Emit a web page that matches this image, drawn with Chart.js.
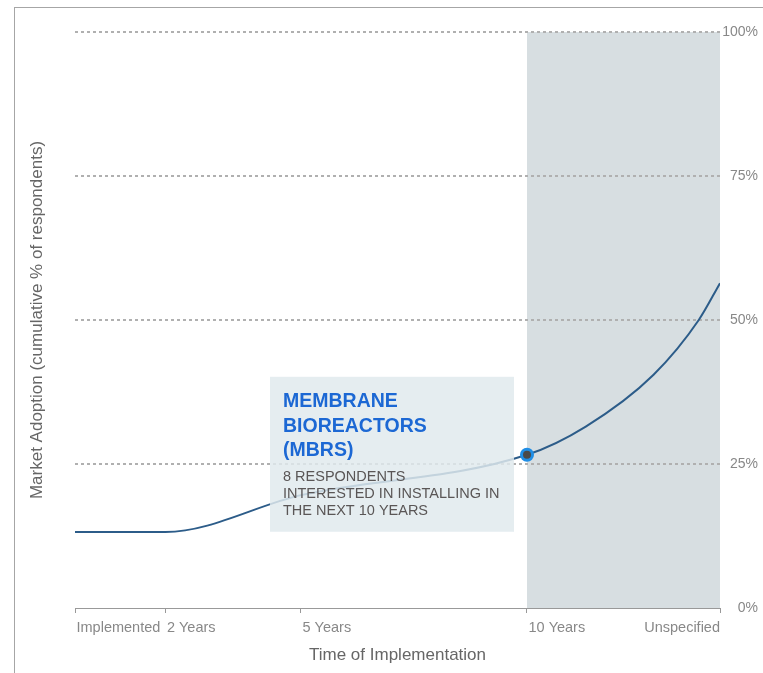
<!DOCTYPE html>
<html>
<head>
<meta charset="utf-8">
<script src="https://cdn.jsdelivr.net/npm/chart.js@4.4.1/dist/chart.umd.min.js"></script>
<style>
  html, body { margin: 0; padding: 0; background: #fff; overflow: hidden; }
  .frame {
    position: absolute; left: 14px; top: 7px; width: 800px; height: 720px;
    border-top: 1px solid #a6a6a6; border-left: 1px solid #a6a6a6;
  }
  canvas { display: block; }
</style>
</head>
<body>
<div class="frame"><canvas id="adoptionChart" width="748" height="665"></canvas></div>
<script>
const tickYears = [0, 2, 5, 10, 14.27];
const tickLabels = ['Implemented', '2 Years', '5 Years', '10 Years', 'Unspecified'];
const seriesYears = [0, 2, 5, 10, 11.3, 12.8, 13.8, 14.27];
const adoptionPct = [13.2, 13.2, 19.6, 26.6, 31.5, 40.5, 50, 56.4];
const percentTicks = [0, 25, 50, 75, 100];
const highlightYear = 10;
const calloutTitle = ['MEMBRANE', 'BIOREACTORS', '(MBRS)'];
const calloutBody = ['8 RESPONDENTS', 'INTERESTED IN INSTALLING IN', 'THE NEXT 10 YEARS'];

const FONT = '"Liberation Sans", Arial, sans-serif';
Chart.defaults.font.family = FONT;
const hi = seriesYears.indexOf(highlightYear);

// grey band from the 10 year mark to the end
const shadePlugin = {
  id: 'shade',
  beforeDraw(chart) {
    const { ctx, chartArea, scales: { x } } = chart;
    const left = x.getPixelForValue(highlightYear);
    ctx.save();
    ctx.fillStyle = '#d7dee1';
    ctx.fillRect(left, chartArea.top, chartArea.right - left, chartArea.bottom - chartArea.top);
    ctx.restore();
  }
};

// x labels: left aligned at the tick, last one right aligned
const xLabelPlugin = {
  id: 'xLabels',
  afterDraw(chart) {
    const { ctx, scales: { x } } = chart;
    ctx.save();
    ctx.font = `14.5px ${FONT}`;
    ctx.fillStyle = '#888';
    ctx.textBaseline = 'alphabetic';
    tickYears.forEach((v, i) => {
      const px = x.getPixelForValue(v);
      const last = i === tickYears.length - 1;
      ctx.textAlign = last ? 'right' : 'left';
      ctx.fillText(tickLabels[i], last ? px : px + 1.5, x.top + 24);
    });
    ctx.restore();
  }
};

// callout box next to the highlighted point
const calloutPlugin = {
  id: 'callout',
  afterDatasetsDraw(chart) {
    const { ctx } = chart;
    const pt = chart.getDatasetMeta(0).data[hi];
    const left = pt.x - 257, right = pt.x - 13;
    const top = pt.y - 78, bottom = pt.y + 77;
    ctx.save();
    ctx.fillStyle = 'rgba(224, 234, 237, 0.84)';
    ctx.fillRect(left, top, right - left, bottom - top);
    ctx.textAlign = 'left';
    ctx.textBaseline = 'alphabetic';
    ctx.font = `bold 19.5px ${FONT}`;
    ctx.fillStyle = '#1c68d4';
    calloutTitle.forEach((t, i) => ctx.fillText(t, left + 13, top + 30.5 + i * 24.4));
    ctx.font = `14.5px ${FONT}`;
    ctx.fillStyle = '#5a5656';
    calloutBody.forEach((t, i) => ctx.fillText(t, left + 13, top + 104.5 + i * 17));
    ctx.restore();
  }
};

new Chart(document.getElementById('adoptionChart'), {
  type: 'line',
  data: {
    datasets: [{
      data: seriesYears.map((yr, i) => ({ x: yr, y: adoptionPct[i] })),
      borderColor: '#2c5c89',
      borderWidth: 2,
      cubicInterpolationMode: 'monotone',
      fill: false,
      pointRadius: (c) => (c.dataIndex === hi ? 5.5 : 0),
      pointHoverRadius: (c) => (c.dataIndex === hi ? 5.5 : 0),
      pointBackgroundColor: '#4a4a4a',
      pointBorderColor: '#1f8ee6',
      pointBorderWidth: 3
    }]
  },
  options: {
    responsive: false,
    animation: false,
    layout: { padding: { top: 24, right: 5 } },
    plugins: {
      legend: { display: false },
      tooltip: { enabled: false }
    },
    scales: {
      x: {
        type: 'linear',
        min: tickYears[0],
        max: tickYears[tickYears.length - 1],
        afterBuildTicks: (s) => { s.ticks = tickYears.map((v) => ({ value: v })); },
        ticks: { display: false },
        grid: { drawOnChartArea: false, drawTicks: true, tickLength: 5, color: '#999', tickColor: '#999' },
        border: { display: true, color: '#999', dash: [4, 2] },
        title: {
          display: true,
          text: 'Time of Implementation',
          color: '#666',
          font: { size: 17 },
          padding: { top: 0, bottom: 7 }
        },
        afterFit: (s) => { s.height = 65; }
      },
      y: {
        position: 'right',
        min: 0,
        max: 100,
        afterBuildTicks: (s) => { s.ticks = percentTicks.map((v) => ({ value: v })); },
        ticks: {
          callback: (v) => v + '%',
          color: '#888',
          font: { size: 14 },
          crossAlign: 'far',
          padding: 2
        },
        grid: {
          drawTicks: false,
          lineWidth: 2,
          color: (c) => (c.tick && c.tick.value === 0 ? 'rgba(0,0,0,0)' : '#b0b0b0')
        },
        border: { display: false, dash: [3, 3] },
        afterFit: (s) => { s.width = 38; }
      },
      yTitle: {
        type: 'linear',
        position: 'left',
        ticks: { display: false },
        grid: { display: false },
        border: { display: false },
        title: {
          display: true,
          text: 'Market Adoption (cumulative % of respondents)',
          color: '#666',
          font: { size: 17 },
          padding: { top: 12, bottom: 0 }
        },
        afterFit: (s) => { s.width = 60; }
      }
    }
  },
  plugins: [shadePlugin, xLabelPlugin, calloutPlugin]
});
</script>
</body>
</html>
